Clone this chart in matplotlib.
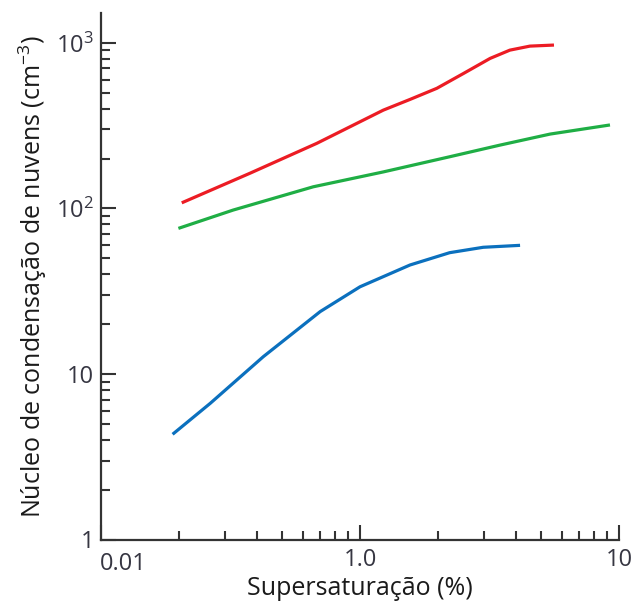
import matplotlib
matplotlib.use("Agg")
from matplotlib import pyplot as plt
from matplotlib.ticker import NullFormatter, FixedLocator

# supersaturation (%) vs CCN concentration (cm^-3), three air types
red_x = [0.205, 0.376, 0.681, 1.23, 1.56, 1.98, 2.51, 3.18, 3.79, 4.53, 5.61]
red_y = [108, 163, 247, 392, 455, 531, 653, 805, 903, 955, 969]

green_x = [0.199, 0.324, 0.660, 1.23, 2.22, 3.47, 5.42, 9.23]
green_y = [75.7, 97.7, 135, 166, 205, 241, 281, 319]

blue_x = [0.189, 0.264, 0.423, 0.702, 1.0, 1.56, 2.22, 2.99, 4.15]
blue_y = [4.32, 6.64, 12.7, 23.8, 33.6, 45.5, 54.0, 58.2, 59.8]

x_ticks = [0.1, 1.0, 10]
x_tick_labels = ["0.01", "1.0", "10"]
y_ticks = [1, 10, 100, 1000]
y_tick_labels = ["1", "10", "10$^2$", "10$^3$"]

plt.rcParams["font.family"] = ["Open Sans", "DejaVu Sans"]
plt.rcParams["mathtext.fontset"] = "custom"
plt.rcParams["mathtext.rm"] = "Open Sans"
plt.rcParams["mathtext.it"] = "Open Sans"

axis_col = "#333333"
text_col = "#363642"

fig = plt.figure(figsize=(6.33, 6.07), dpi=100)
ax = fig.add_axes([101 / 633, 1 - 539.5 / 607, 518 / 633, 526.5 / 607])

ax.plot(red_x, red_y, color="#ec1c24", lw=2.3, solid_capstyle="butt")
ax.plot(green_x, green_y, color="#1fae45", lw=2.3, solid_capstyle="butt")
ax.plot(blue_x, blue_y, color="#0b70be", lw=2.3, solid_capstyle="butt")

ax.set_xscale("log")
ax.set_yscale("log")
ax.set_xlim(0.1, 10)
ax.set_ylim(1, 10 ** 3.18)

ax.spines["top"].set_visible(False)
ax.spines["right"].set_visible(False)
for s in ("left", "bottom"):
    ax.spines[s].set_linewidth(1.6)
    ax.spines[s].set_color(axis_col)

# first x label is drawn separately, shifted right of its tick
ax.xaxis.set_major_locator(FixedLocator(x_ticks))
ax.set_xticklabels([""] + x_tick_labels[1:])
ax.yaxis.set_major_locator(FixedLocator(y_ticks))
ax.set_yticklabels(y_tick_labels)

# 2..9 within each decade
x_minor = [m * 10.0 ** e for e in (-1, 0) for m in range(2, 10)]
y_minor = [m * 10.0 ** e for e in (0, 1, 2, 3) for m in range(2, 10)]
ax.xaxis.set_minor_locator(FixedLocator(x_minor))
ax.yaxis.set_minor_locator(FixedLocator([v for v in y_minor if v < 10 ** 3.18]))
ax.xaxis.set_minor_formatter(NullFormatter())
ax.yaxis.set_minor_formatter(NullFormatter())

ax.tick_params(which="major", direction="in", length=11, width=1.5,
               color=axis_col, labelsize=17, labelcolor=text_col)
ax.tick_params(which="minor", direction="in", length=6.5, width=1.5,
               color=axis_col)
ax.tick_params(axis="x", which="major", pad=6)
ax.tick_params(axis="y", which="major", pad=5)

ax.annotate(x_tick_labels[0], xy=(x_ticks[0], 0), xycoords=ax.get_xaxis_transform(),
            xytext=(16, -9), textcoords="offset points", ha="center", va="top",
            fontsize=17, color=text_col)

ax.set_xlabel("Supersaturação (%)", fontsize=18, color="#1a1a1a", labelpad=3)
ax.set_ylabel("Núcleo de condensação de nuvens (cm$^{-3}$)", fontsize=18,
              color="#1a1a1a", labelpad=5)

fig.savefig("out.png", dpi=100)
